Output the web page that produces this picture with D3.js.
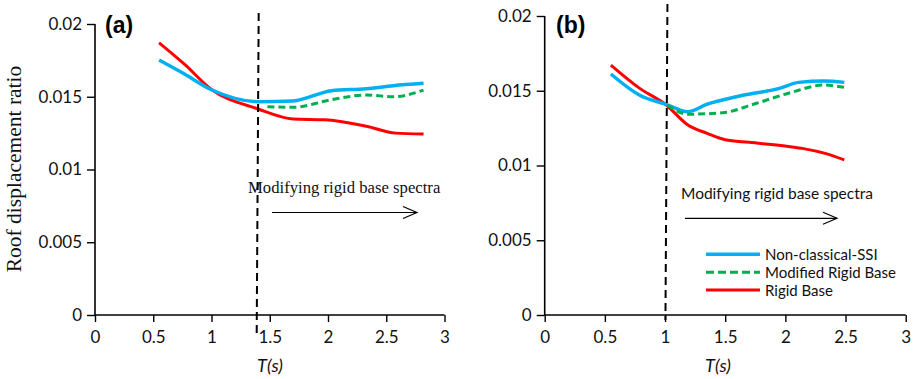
<!DOCTYPE html>
<html>
<head>
<meta charset="utf-8">
<script src="https://cdn.jsdelivr.net/npm/d3@7"></script>
<style>
  html, body { margin: 0; padding: 0; background: #fff; }
  svg { display: block; }
  .tick text { font-family: Lato, "Open Sans", sans-serif; }
</style>
</head>
<body>
<svg id="chart" width="918" height="379"></svg>
<script>
// Roof displacement ratio versus period T(s), two configurations.
const xTicks = [0, 0.5, 1, 1.5, 2, 2.5, 3];
const yTicks = [0, 0.005, 0.01, 0.015, 0.02];
const seriesNames = ["Non-classical-SSI", "Modified Rigid Base", "Rigid Base"];

// Panel (a)
const aNonClassical = [[0.55,0.01753],[0.75,0.01665],[1.0,0.01548],[1.4,0.01466],[1.7,0.01471],[2.03,0.01542],[2.33,0.01555],[2.56,0.01576],[2.82,0.01592]];
const aModified = [[1.48,0.01432],[1.7,0.01427],[2.03,0.01480],[2.33,0.01512],[2.56,0.01500],[2.82,0.01546]];
const aRigid = [[0.55,0.01871],[0.77,0.01722],[1.0,0.01550],[1.4,0.01416],[1.7,0.01347],[1.97,0.01342],[2.33,0.01297],[2.58,0.01250],[2.82,0.01244]];
const aDivide = 1.405;

// Panel (b)
const bNonClassical = [[0.55,0.01612],[0.79,0.01470],[1.01,0.01409],[1.19,0.01360],[1.35,0.01410],[1.62,0.01465],[1.95,0.01516],[2.11,0.01556],[2.32,0.01565],[2.49,0.01556]];
const bModified = [[1.02,0.01405],[1.19,0.01343],[1.48,0.01353],[1.76,0.01416],[2.04,0.01487],[2.32,0.01538],[2.49,0.01523]];
const bRigid = [[0.55,0.01672],[0.79,0.01516],[1.01,0.01405],[1.19,0.01271],[1.35,0.01215],[1.5,0.01172],[1.7,0.01155],[2.04,0.01126],[2.15,0.01113],[2.33,0.01081],[2.49,0.01037]];
const bDivide = 1.02;

const colors = { blue: "#00B0F0", green: "#00B050", red: "#FF0000" };

const svg = d3.select("#chart");

function drawPanel(cfg) {
  const x = d3.scaleLinear().domain([0, 3]).range([cfg.x0, cfg.x1]);
  const y = d3.scaleLinear().domain([0, 0.02]).range([cfg.y0, cfg.y1]);
  const g = svg.append("g");

  // axes
  const yAxis = d3.axisLeft(y).tickValues(yTicks).tickSize(8).tickPadding(5)
    .tickFormat(d => d === 0 ? "0" : String(+d.toFixed(3)));
  const xAxis = d3.axisBottom(x).tickValues(xTicks).tickSize(7).tickPadding(9)
    .tickFormat(d => String(d));

  const ya = g.append("g").attr("transform", `translate(${cfg.x0},0)`).call(yAxis);
  const xa = g.append("g").attr("transform", `translate(0,${cfg.y0})`).call(xAxis);
  [ya, xa].forEach(a => {
    a.select(".domain").attr("stroke", "#000").attr("stroke-width", 1.6);
    a.selectAll(".tick line").attr("stroke", "#000").attr("stroke-width", 1.4);
    a.selectAll(".tick text").attr("fill", "#111").attr("font-size", 17);
  });
  // axis lines without the outer tick hooks
  xa.select(".domain").attr("d", `M${cfg.x0},0H${cfg.x1}`);
  ya.select(".domain").attr("d", `M0,${cfg.y0}V${cfg.y1}`);

  const line = d3.line().x(d => x(d[0])).y(d => y(d[1])).curve(d3.curveMonotoneX);

  g.append("path").datum(cfg.rigid).attr("d", line)
    .attr("fill", "none").attr("stroke", colors.red).attr("stroke-width", 3);
  g.append("path").datum(cfg.nonClassical).attr("d", line)
    .attr("fill", "none").attr("stroke", colors.blue).attr("stroke-width", 3.5);
  g.append("path").datum(cfg.modified).attr("d", line)
    .attr("fill", "none").attr("stroke", colors.green).attr("stroke-width", 3)
    .attr("stroke-dasharray", "7,4");

  // vertical divider
  g.append("line")
    .attr("x1", x(cfg.divide)).attr("x2", x(cfg.divide) - 2)
    .attr("y1", cfg.divTop).attr("y2", cfg.divBottom)
    .attr("stroke", "#000").attr("stroke-width", 2).attr("stroke-dasharray", "8,5");

  // panel label
  g.append("text").attr("x", cfg.labelX).attr("y", 33)
    .attr("font-family", "Liberation Sans, Arial, sans-serif").attr("font-weight", "bold")
    .attr("font-size", 23).attr("fill", "#000").text(cfg.label);

  // annotation + arrow
  g.append("text").attr("x", cfg.noteX).attr("y", cfg.noteY)
    .attr("font-family", cfg.noteFont).attr("font-size", cfg.noteSize).attr("fill", "#111")
    .text("Modifying rigid base spectra");
  g.append("line").attr("x1", cfg.arrowX0).attr("x2", cfg.arrowX1)
    .attr("y1", cfg.arrowY).attr("y2", cfg.arrowY).attr("stroke", "#000").attr("stroke-width", 1.2);
  g.append("path")
    .attr("d", `M${cfg.arrowX1 - 14},${cfg.arrowY - 6}L${cfg.arrowX1},${cfg.arrowY}L${cfg.arrowX1 - 14},${cfg.arrowY + 6}`)
    .attr("fill", "none").attr("stroke", "#000").attr("stroke-width", 1.2);

  // x-axis title
  g.append("text").attr("x", cfg.titleX).attr("y", 372).attr("text-anchor", "middle")
    .attr("font-family", "Lato, sans-serif").attr("font-style", "italic")
    .attr("font-size", 18).attr("fill", "#111").text("T(s)");
  return { x, y, g };
}

drawPanel({
  x0: 95, x1: 444.5, y0: 315, y1: 24,
  nonClassical: aNonClassical, modified: aModified, rigid: aRigid,
  divide: aDivide, divTop: 13, divBottom: 335,
  label: "(a)", labelX: 105,
  noteX: 248, noteY: 193, noteFont: "Liberation Serif, Times New Roman, serif", noteSize: 16.7,
  arrowX0: 272, arrowX1: 417, arrowY: 212.5,
  titleX: 270
});

drawPanel({
  x0: 544.7, x1: 905.7, y0: 315, y1: 16,
  nonClassical: bNonClassical, modified: bModified, rigid: bRigid,
  divide: bDivide, divTop: 4, divBottom: 320,
  label: "(b)", labelX: 556,
  noteX: 681, noteY: 199, noteFont: "Lato, sans-serif", noteSize: 15.5,
  arrowX0: 685, arrowX1: 837, arrowY: 218.3,
  titleX: 718
});

// y-axis title (left panel)
svg.append("text")
  .attr("transform", "translate(21,169) rotate(-90)")
  .attr("text-anchor", "middle")
  .attr("font-family", "Liberation Serif, Times New Roman, serif")
  .attr("font-size", 21.5).attr("fill", "#111")
  .text("Roof displacement ratio");

// legend (right panel)
const legendStyles = [
  { color: colors.blue, dash: null, width: 3.5 },
  { color: colors.green, dash: "8,4", width: 3 },
  { color: colors.red, dash: null, width: 3 }
];
const legend = svg.append("g").attr("transform", "translate(706,254.3)");
seriesNames.forEach((name, i) => {
  const row = legend.append("g").attr("transform", `translate(0,${i * 17.9})`);
  row.append("line").attr("x1", 0).attr("x2", 54).attr("y1", 0).attr("y2", 0)
    .attr("stroke", legendStyles[i].color).attr("stroke-width", legendStyles[i].width)
    .attr("stroke-dasharray", legendStyles[i].dash);
  row.append("text").attr("x", 59).attr("y", 5.5)
    .attr("font-family", "Lato, sans-serif").attr("font-size", 15).attr("fill", "#111")
    .text(name);
});
</script>
</body>
</html>
